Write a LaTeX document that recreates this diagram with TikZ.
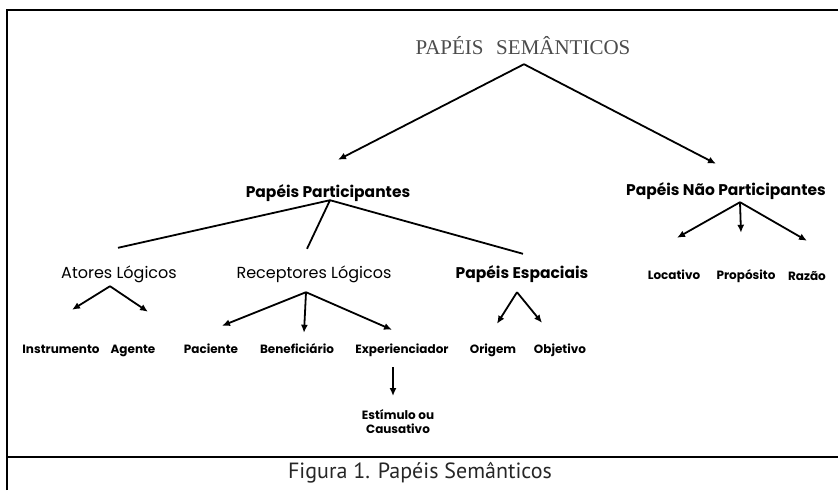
\documentclass[tikz,border=0pt]{standalone}
\usepackage{fontspec}
\setmainfont{Poppins}
\newfontfamily\titlefont{Liberation Serif}
\newfontfamily\legendafont{PT Sans}
\usetikzlibrary{arrows.meta}

\begin{document}
\begin{tikzpicture}[x=1pt,y=-1pt,% y cap avall, com la imatge
	papel/.style={anchor=base,inner sep=0pt,text height=9pt,text depth=0pt,font=\bfseries\fontsize{12}{14}\selectfont},
	grupo/.style={papel,text height=13pt,font=\bfseries\fontsize{15.5}{17}\selectfont},
	logico/.style={papel,text height=12pt,font=\fontsize{16}{18}\selectfont},
	titulo/.style={papel,text height=13pt,text=black!70,font=\titlefont\fontsize{21}{23}\selectfont},
	liga/.style={line width=1.8pt},
	seta/.style={liga,-{Latex[length=8pt,width=7pt]}},
	moldura/.style={line width=2.4pt}]

\useasboundingbox (0,0) rectangle (838,490);

% El de dalt de tot
\node [titulo] (PS) at (523,54) {PAPÉIS\hspace{0.6em}SEMÂNTICOS};
\node [grupo] (PP) at (328,197) {Papéis Participantes};
\node [grupo] (PNP) at (726,195) {Papéis Não Participantes};
%%%%%%%%%%%%%%%%%%%%%%%%%%%%%%%%%%%%%%%%%%%%%%%%%%%%%%%%%%%%%%%%%%%%%%%%%%%%%%%%
\node [logico] (AL) at (119,278) {Atores Lógicos};
\node [logico] (RL) at (314,278) {Receptores Lógicos};
\node [grupo] (PE) at (522,278) {Papéis Espaciais};
%%%%%%%%%%%%%%%%%%%%%%%%%%%%%%%%%%%%%%%%%%%%%%%%%%%%%%%%%%%%%%%%%%%%%%%%%%%%%%%%
\node [papel] (In) at (61,353) {Instrumento};
\node [papel] (Ag) at (133,353) {Agente};
\node [papel] (Pa) at (211,353) {Paciente};
\node [papel] (Be) at (297,353) {Beneficiário};
\node [papel] (Ex) at (402,353) {Experienciador};
\node [papel] (Or) at (493,353) {Origem};
\node [papel] (Ob) at (560,353) {Objetivo};
\node [papel,anchor=north,text height=,align=center] (ES) at (398,409) {Estímulo ou\\Causativo};
%%%%%%%%%%%%%%%%%%%%%%%%%%%%%%%%%%%%%%%%%%%%%%%%%%%%%%%%%%%%%%%%%%%%%%%%%%%%%%%%
\node [papel] (Lo) at (674,279) {Locativo};
\node [papel] (Pr) at (746,279) {Propósito};
\node [papel] (Ra) at (807,280) {Razão};

%%%%%%%%%%%%%%%%%%%%%%%%%%%%%%%%%%%%%%%%%%%%%%%%%%%%%%%%%%%%%%%%%%%%%%%%%%%%%%%%
% Connexions
%%%%%%%%%%%%%%%%%%%%%%%%%%%%%%%%%%%%%%%%%%%%%%%%%%%%%%%%%%%%%%%%%%%%%%%%%%%%%%%%
\draw [seta] ([shift={(1,10)}]PS.south) -- ([shift={(10,-24)}]PP.north);
\draw [seta] ([shift={(1,10)}]PS.south) -- ([shift={(-10,-18)}]PNP.north);

\draw [liga]
	([shift={(2,3)}]PP.south)	-- ([shift={(-1,-18)}]AL.north)
	([shift={(2,3)}]PP.south)	-- ([shift={(-7,-17)}]RL.north)
	([shift={(2,3)}]PP.south)	-- ([shift={(1,-11)}]PE.north);

\draw [seta] ([shift={(-9,8)}]AL.south)	-- ([shift={(11,-34)}]In.north);
\draw [seta] ([shift={(-9,8)}]AL.south)	-- ([shift={(15,-32)}]Ag.north);

\draw [seta] ([shift={(-8,14)}]RL.south)	-- ([shift={(11,-18)}]Pa.north);
\draw [seta] ([shift={(-8,14)}]RL.south)	-- ([shift={(7,-11)}]Be.north);
\draw [seta] ([shift={(-8,14)}]RL.south)	-- ([shift={(-10,-14)}]Ex.north);
\draw [seta] ([shift={(-9,14)}]Ex.south)	-- ([shift={(-5,-13)}]ES.north);

\draw [seta] ([shift={(-5,14)}]PE.south)	-- ([shift={(4,-20)}]Or.north);
\draw [seta] ([shift={(-5,14)}]PE.south)	-- ([shift={(-18,-21)}]Ob.north);

\draw [seta] ([shift={(14,7)}]PNP.south)	-- ([shift={(3,-32)}]Lo.north);
\draw [seta] ([shift={(14,7)}]PNP.south)	-- ([shift={(-5,-37)}]Pr.north);
\draw [seta] ([shift={(14,7)}]PNP.south)	-- ([shift={(0,-30)}]Ra.north);

% Marc i peu
\draw [moldura] (7,490) -- (7,10) -- (838,10);
\draw [line width=2pt] (7,457) -- (838,457);
\node [font=\legendafont\fontsize{22}{24}\selectfont,text=black!85] (Fig) at (420,473) {Figura 1. Papéis Semânticos};

\end{tikzpicture}
\end{document}
